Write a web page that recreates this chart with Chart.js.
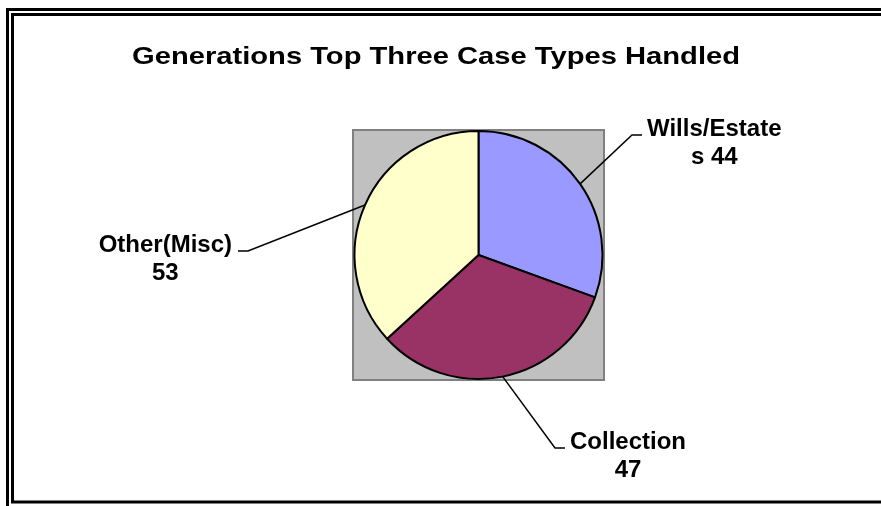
<!DOCTYPE html>
<html lang="en">
<head>
    <meta charset="UTF-8">
    <title>Generations Top Three Case Types Handled</title>
    <script src="https://cdn.jsdelivr.net/npm/chart.js"></script>
    <style>
        html, body { margin: 0; padding: 0; background: #fff; }
        #wrap { position: relative; width: 881px; height: 506px; overflow: hidden; }
    </style>
</head>
<body>
    <div id="wrap">
        <canvas id="caseChart" width="881" height="506"></canvas>
    </div>

    <script>
const chartTitle = 'Generations Top Three Case Types Handled';
const caseTypes = ['Wills/Estates', 'Collection', 'Other(Misc)'];
const caseCounts = [44, 47, 53];
const sliceColors = ['#9999FF', '#993366', '#FFFFCC'];

// where each leader line bends, in pie radii from the centre (same order as caseTypes)
const elbows = [
    { x: 1.238, y: -0.968, side: 1 },
    { x: 0.617, y: 1.556, side: 1 },
    { x: -1.859, y: -0.032, side: -1 }
];

const labelFont = 'bold 24px "Liberation Sans", Arial, sans-serif';
const titleFont = 'bold 24px "Liberation Sans", Arial, sans-serif';

function wrapText(ctx, text, maxWidth) {
    const lines = [];
    let line = '';
    for (const word of text.split(' ')) {
        const test = line ? line + ' ' + word : word;
        if (ctx.measureText(test).width <= maxWidth) {
            line = test;
            continue;
        }
        if (line) lines.push(line);
        line = '';
        // word too long on its own: break it by characters
        let part = '';
        for (const ch of word) {
            if (ctx.measureText(part + ch).width > maxWidth && part) {
                lines.push(part);
                part = ch;
            } else {
                part += ch;
            }
        }
        line = part;
    }
    if (line) lines.push(line);
    return lines;
}

const framePlugin = {
    id: 'frame',
    beforeDraw(chart) {
        const ctx = chart.ctx;
        const a = chart.chartArea;
        ctx.save();
        ctx.fillStyle = '#fff';
        ctx.fillRect(0, 0, chart.width, chart.height);

        // double border
        ctx.strokeStyle = '#000';
        ctx.lineWidth = 3;
        ctx.strokeRect(7.5, 9.5, chart.width + 20, chart.height + 20);
        ctx.strokeRect(12.5, 14.5, chart.width + 20, 487.5);

        // grey plot area behind the pie
        ctx.fillStyle = '#C0C0C0';
        ctx.fillRect(a.left, a.top, a.width, a.height);
        ctx.strokeStyle = '#808080';
        ctx.lineWidth = 2;
        ctx.strokeRect(a.left, a.top, a.width, a.height);

        // title, drawn a little wider than normal like the original
        ctx.font = titleFont;
        ctx.fillStyle = '#000';
        ctx.textAlign = 'center';
        ctx.textBaseline = 'alphabetic';
        const w = ctx.measureText(chartTitle).width;
        const sx = 608 / w;
        ctx.translate(436, 64);
        ctx.scale(sx, 1);
        ctx.fillText(chartTitle, 0, 0);
        ctx.restore();
    },
    afterDatasetsDraw(chart) {
        const ctx = chart.ctx;
        const meta = chart.getDatasetMeta(0);
        ctx.save();
        ctx.font = labelFont;
        ctx.fillStyle = '#000';
        ctx.strokeStyle = '#000';
        ctx.lineWidth = 1.5;
        meta.data.forEach((arc, i) => {
            const p = arc.getProps(['x', 'y', 'startAngle', 'endAngle', 'outerRadius'], true);
            const mid = (p.startAngle + p.endAngle) / 2;
            const r = p.outerRadius;
            const sx = p.x + Math.cos(mid) * r;
            const sy = p.y + Math.sin(mid) * r;
            const e = elbows[i];
            const ex = p.x + e.x * r;
            const ey = p.y + e.y * r;
            const tx = ex + e.side * 10;
            ctx.beginPath();
            ctx.moveTo(sx, sy);
            ctx.lineTo(ex, ey);
            ctx.lineTo(tx, ey);
            ctx.stroke();

            const lines = wrapText(ctx, caseTypes[i] + ' ' + caseCounts[i], 140);
            const blockW = Math.max(...lines.map(l => ctx.measureText(l).width));
            const cx = e.side > 0 ? tx + 5 + blockW / 2 : tx - 6 - blockW / 2;
            ctx.textAlign = 'center';
            ctx.textBaseline = 'alphabetic';
            lines.forEach((l, k) => ctx.fillText(l, cx, ey + 1 + k * 28));
        });
        ctx.restore();
    }
};

new Chart(
    document.getElementById('caseChart'),
    {
        type: 'pie',
        data: {
            labels: caseTypes,
            datasets: [{
                data: caseCounts,
                backgroundColor: sliceColors,
                borderColor: '#000',
                borderWidth: 2
            }]
        },
        options: {
            responsive: false,
            animation: false,
            layout: {
                padding: { left: 353, right: 277, top: 130, bottom: 126 }
            },
            plugins: {
                legend: { display: false },
                title: { display: false },
                tooltip: { enabled: false }
            }
        },
        plugins: [framePlugin]
    }
);
</script>
</body>
</html>
